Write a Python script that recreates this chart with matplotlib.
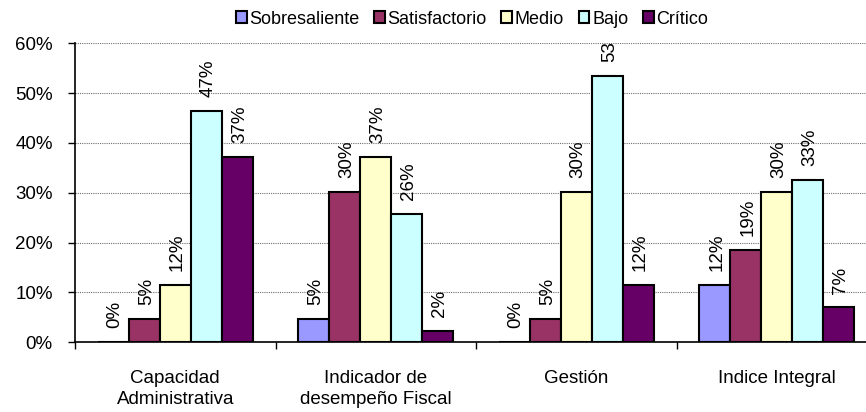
import numpy as np
import matplotlib.pyplot as plt

plt.rcParams['font.family'] = ['Liberation Sans', 'DejaVu Sans']

# Data (percent)
categories = ['Capacidad\nAdministrativa', 'Indicador de\ndesempeño Fiscal', 'Gestión', 'Indice Integral']
series = ['Sobresaliente', 'Satisfactorio', 'Medio', 'Bajo', 'Crítico']
sobresaliente = [0.0, 4.6, 0.0, 11.5]
satisfactorio = [4.6, 30.1, 4.6, 18.5]
medio = [11.5, 37.2, 30.1, 30.1]
bajo = [46.5, 25.7, 53.4, 32.6]
critico = [37.2, 2.3, 11.5, 7.0]
labels = [
    ['0%', '5%', '0%', '12%'],
    ['5%', '30%', '5%', '19%'],
    ['12%', '37%', '30%', '30%'],
    ['47%', '26%', '53%', '33%'],
    ['37%', '2%', '12%', '7%'],
]
colors = ['#9999FF', '#993366', '#FFFFCC', '#CCFFFF', '#660066']

values = [sobresaliente, satisfactorio, medio, bajo, critico]
fs = 13.5

fig = plt.figure(figsize=(8.66, 4.12), dpi=100)
# plot area runs past the right edge of the picture, as in the original
ax = fig.add_axes([75 / 866, (412 - 342.3) / 412, 802 / 866, 299 / 412])

x = np.arange(len(categories))
width = 0.155
for i, (name, vals) in enumerate(zip(series, values)):
    pos = x + (i - 2) * width
    ax.bar(pos, vals, width, color=colors[i], edgecolor='black', linewidth=1.5,
           label=name, zorder=3)
    for p, v, t in zip(pos, vals, labels[i]):
        ax.annotate(t, (p, v), xytext=(1.5, 10), textcoords='offset points',
                    rotation=90, ha='center', va='bottom', fontsize=fs,
                    annotation_clip=False, clip_on=True)

ax.set_xlim(-0.5, 3.5)
ax.set_ylim(0, 60)
ax.set_yticks(np.arange(0, 61, 10))
ax.set_yticklabels([f'{v}%' for v in range(0, 61, 10)], fontsize=fs)
ax.yaxis.grid(True, linestyle=(0, (1, 1)), color='#707070', linewidth=0.8, zorder=0)

ax.set_xticks(x)
ax.set_xticklabels(categories, fontsize=fs, linespacing=1.3)
ax.set_xticks(np.arange(-0.5, 4, 1), minor=True)
ax.tick_params(axis='x', which='major', length=0, pad=20)
ax.tick_params(axis='x', which='minor', length=5, width=1)
ax.tick_params(axis='y', length=5, width=1, pad=11)

for s in ['top', 'right']:
    ax.spines[s].set_visible(False)
for s in ['left', 'bottom']:
    ax.spines[s].set_linewidth(1.2)

fig.legend(loc='center', bbox_to_anchor=(472 / 866, 1 - 19 / 412),
           ncol=5, frameon=False, fontsize=13, handlelength=0.6, handleheight=0.6,
           handletextpad=0.15, columnspacing=0.8, borderaxespad=0)

fig.savefig('out.png', dpi=100)
